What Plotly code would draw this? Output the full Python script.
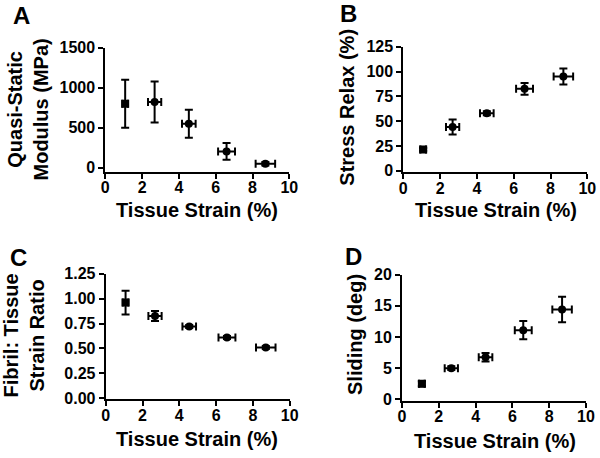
import plotly.graph_objects as go

W, H = 600, 458

# Data
strain = [1.08, 2.68, 4.54, 6.59, 8.70]
strain_err = [0.15, 0.36, 0.37, 0.46, 0.53]

modulus = [800, 821, 550, 204, 50]
modulus_err = [300, 255, 175, 105, 22]

relax = [21.5, 44, 58, 82.5, 95]
relax_err = [1.5, 7.5, 2, 6, 8]

ratio = [0.96, 0.825, 0.72, 0.61, 0.51]
ratio_err = [0.12, 0.05, 0.015, 0.015, 0.015]

sliding = [2.5, 5.0, 6.75, 11.1, 14.4]
sliding_err = [0.4, 0.3, 0.7, 1.45, 2.05]

x_ticks = [0, 2, 4, 6, 8, 10]
symbols = ["square", "circle", "circle", "circle", "circle"]

FONT = "Arial, Liberation Sans, sans-serif"

fig = go.Figure()

panels = [
    ("x", "y", modulus, modulus_err, (105.3, 289.3), (47.7, 171.7), [-50, 1500],
     [0, 500, 1000, 1500], ["0", "500", "1000", "1500"]),
    ("x2", "y2", relax, relax_err, (403.3, 587.3), (46.7, 172.3), [-1.6, 125],
     [0, 25, 50, 75, 100, 125], ["0", "25", "50", "75", "100", "125"]),
    ("x3", "y3", ratio, ratio_err, (105.7, 289.7), (273.7, 399.3), [-0.01, 1.25],
     [0, 0.25, 0.5, 0.75, 1.0, 1.25], ["0.00", "0.25", "0.50", "0.75", "1.00", "1.25"]),
    ("x4", "y4", sliding, sliding_err, (402, 586), (274.7, 401), [-0.27, 20],
     [0, 5, 10, 15, 20], ["0", "5", "10", "15", "20"]),
]

tickfont = dict(family=FONT, size=16, color="black", weight="bold")

layout_axes = {}
for i, (xa, ya, yv, ye, xd, yd, yr, ytv, ytt) in enumerate(panels):
    fig.add_trace(go.Scatter(
        x=strain, y=yv, xaxis=xa, yaxis=ya, mode="markers",
        marker=dict(symbol=symbols, size=8, color="black"),
        error_x=dict(type="data", array=strain_err, color="black", thickness=2, width=4),
        error_y=dict(type="data", array=ye, color="black", thickness=2, width=4),
        showlegend=False,
        hoverinfo="skip",
    ))
    xkey = "xaxis" if i == 0 else f"xaxis{i+1}"
    ykey = "yaxis" if i == 0 else f"yaxis{i+1}"
    layout_axes[xkey] = dict(
        domain=[xd[0] / W, xd[1] / W], range=[0, 10], tickvals=x_ticks,
        showline=True, linecolor="black", linewidth=2, ticks="outside",
        ticklen=5, tickwidth=2, tickcolor="black", showgrid=False, zeroline=False,
        anchor=ya, tickfont=tickfont, automargin=False, ticklabelstandoff=-5,
    )
    layout_axes[ykey] = dict(
        domain=[1 - yd[1] / H, 1 - yd[0] / H], range=yr, tickvals=ytv, ticktext=ytt,
        showline=True, linecolor="black", linewidth=2, ticks="outside",
        ticklen=5, tickwidth=2, tickcolor="black", showgrid=False, zeroline=False,
        anchor=xa, tickfont=tickfont, automargin=False,
    )

fig.update_layout(**layout_axes)

def ann(text, px, py, size, angle=0):
    return dict(text=text, x=px / W, y=1 - py / H, xref="paper", yref="paper",
                xanchor="center", yanchor="middle", showarrow=False, textangle=angle,
                font=dict(family=FONT, size=size, color="black"))

annotations = [
    ann("<b>A</b>", 21.5, 15, 24),
    ann("<b>B</b>", 348.5, 14, 24),
    ann("<b>C</b>", 18, 257, 24),
    ann("<b>D</b>", 353, 256, 24),
    ann("<b>Tissue Strain (%)</b>", 197, 210, 20),
    ann("<b>Tissue Strain (%)</b>", 496, 210, 20),
    ann("<b>Tissue Strain (%)</b>", 197, 439, 20),
    ann("<b>Tissue Strain (%)</b>", 495, 441, 20),
    ann("<b>Quasi-Static<br>Modulus (MPa)</b>", 27.5, 110, 20, -90),
    ann("<b>Stress Relax (%)</b>", 346.7, 107, 20, -90),
    ann("<b>Fibril: Tissue<br>Strain Ratio</b>", 23.5, 336, 20, -90),
    ann("<b>Sliding (deg)</b>", 355, 335, 20, -90),
]

fig.update_layout(
    template="none",
    width=W, height=H, margin=dict(l=0, r=0, t=0, b=0, autoexpand=False),
    paper_bgcolor="white", plot_bgcolor="white",
    annotations=annotations,
    font=dict(family=FONT, color="black"),
)

fig.write_html(
    "out.html",
    config={"displayModeBar": False},
    post_script="document.body.style.margin='0';document.body.style.overflow='hidden';",
)
